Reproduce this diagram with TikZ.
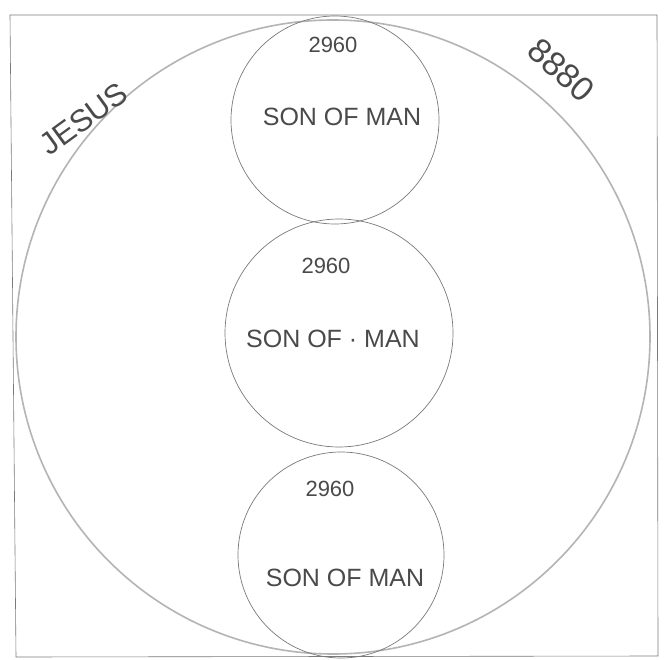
\documentclass[tikz,border=0pt]{standalone}
\usepackage{fontspec}
\setmainfont{Liberation Sans}
\usepackage{tikz}
\definecolor{Pencil}{HTML}{7A7A7A}
\definecolor{PencilLight}{HTML}{B4B4B4}
\definecolor{Ink}{HTML}{4A4A4A}

\begin{document}
\begin{tikzpicture}[
  x=1pt, y=-1pt,
  ring/.style={draw=Pencil, line width=0.7pt, circle, inner sep=0pt},
  bigring/.style={draw=PencilLight, line width=1.6pt, circle, inner sep=0pt},
  num/.style={text=Ink, font=\fontsize{22}{26}\selectfont, inner sep=0pt},
  words/.style={text=Ink, font=\fontsize{25}{30}\selectfont, inner sep=0pt},
  tag/.style={text=Ink, font=\fontsize{31}{36}\selectfont, inner sep=0pt}
]
\useasboundingbox (0,0) rectangle (666,660);
\fill[white] (0,0) rectangle (666,660);
% sheet border
\draw[Pencil, line width=0.6pt] (10,15) -- (657,15) -- (658,656) -- (16,657) -- cycle;
% outer circle
\node[bigring, minimum size=634] (whole) at (333,337) {};
% three inner circles
\node[ring, minimum size=208] (upper) at (335,120) {};
\node[ring, minimum size=228] (middle) at (339,333) {};
\node[ring, minimum size=206] (lower) at (341,555) {};
% labels
\node[num] (upperNum) at (333,45) {2960};
\node[words] (upperText) at (342,117) {SON OF MAN};
\node[num] (middleNum) at (326,266) {2960};
\node[words] (middleText) at (333,339) {SON OF {\textperiodcentered} MAN};
\node[num] (lowerNum) at (330,489) {2960};
\node[words] (lowerText) at (345,578) {SON OF MAN};
\node[tag, rotate=36] (name) at (84,119) {JESUS};
\node[tag, rotate=-42, font=\fontsize{34}{40}\selectfont] (total) at (561,70) {8880};
\end{tikzpicture}
\end{document}
